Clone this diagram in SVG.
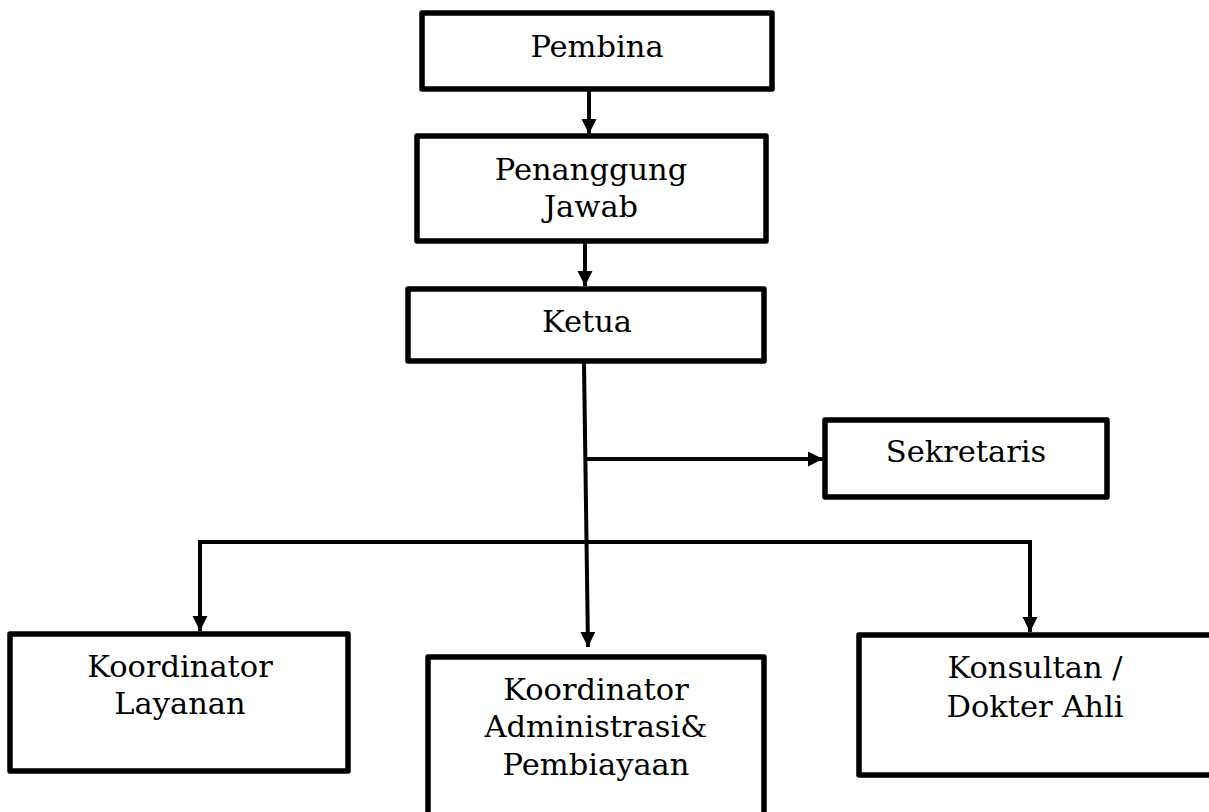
<svg xmlns="http://www.w3.org/2000/svg" width="1209" height="812" viewBox="0 0 1209 812">
<style>
.box{fill:#fff;stroke:#000;stroke-width:5.5;stroke-linejoin:round}
.lbl{font-family:"DejaVu Serif","Liberation Serif",serif;font-size:30.5px;fill:#000;text-anchor:middle}
.con{fill:none;stroke:#000;stroke-width:4}
</style>
<defs>
<marker id="ah" markerUnits="userSpaceOnUse" markerWidth="16" markerHeight="16" refX="15" refY="7.5" orient="auto">
<path d="M0,0 L15,7.5 L0,15 Z" fill="#000"/>
</marker>
</defs>
<rect width="1209" height="812" fill="#fff"/>
<g id="connectors">
<line class="con" x1="589" y1="91" x2="589" y2="134" marker-end="url(#ah)"/>
<line class="con" x1="585" y1="243" x2="585" y2="286" marker-end="url(#ah)"/>
<line class="con" x1="584" y1="363" x2="588" y2="647" marker-end="url(#ah)"/>
<line class="con" x1="586" y1="459" x2="823" y2="459" marker-end="url(#ah)"/>
<polyline class="con" points="200,631 200,542 1030,542 1030,632" marker-end="url(#ah)"/>
<line class="con" x1="200" y1="542" x2="200" y2="631" marker-end="url(#ah)"/>
</g>
<g id="pembina">
<rect class="box" x="422" y="13" width="350" height="76"/>
<text class="lbl" x="597" y="57">Pembina</text>
</g>
<g id="penanggung">
<rect class="box" x="417" y="136" width="349" height="105"/>
<text class="lbl" x="591" y="180">Penanggung</text>
<text class="lbl" x="591" y="217">Jawab</text>
</g>
<g id="ketua">
<rect class="box" x="408" y="289" width="356" height="72"/>
<text class="lbl" x="587" y="332">Ketua</text>
</g>
<g id="sekretaris">
<rect class="box" x="825" y="420" width="282" height="77"/>
<text class="lbl" x="966" y="462">Sekretaris</text>
</g>
<g id="koordinator-layanan">
<rect class="box" x="10" y="634" width="338" height="137"/>
<text class="lbl" x="180" y="677">Koordinator</text>
<text class="lbl" x="180" y="714">Layanan</text>
</g>
<g id="koordinator-administrasi">
<rect class="box" x="428" y="657" width="336" height="170"/>
<text class="lbl" x="596" y="700">Koordinator</text>
<text class="lbl" x="596" y="737">Administrasi&amp;</text>
<text class="lbl" x="596" y="775">Pembiayaan</text>
</g>
<g id="konsultan">
<rect class="box" x="859" y="635" width="360" height="140"/>
<text class="lbl" x="1035" y="678">Konsultan /</text>
<text class="lbl" x="1035" y="717">Dokter Ahli</text>
</g>
</svg>
